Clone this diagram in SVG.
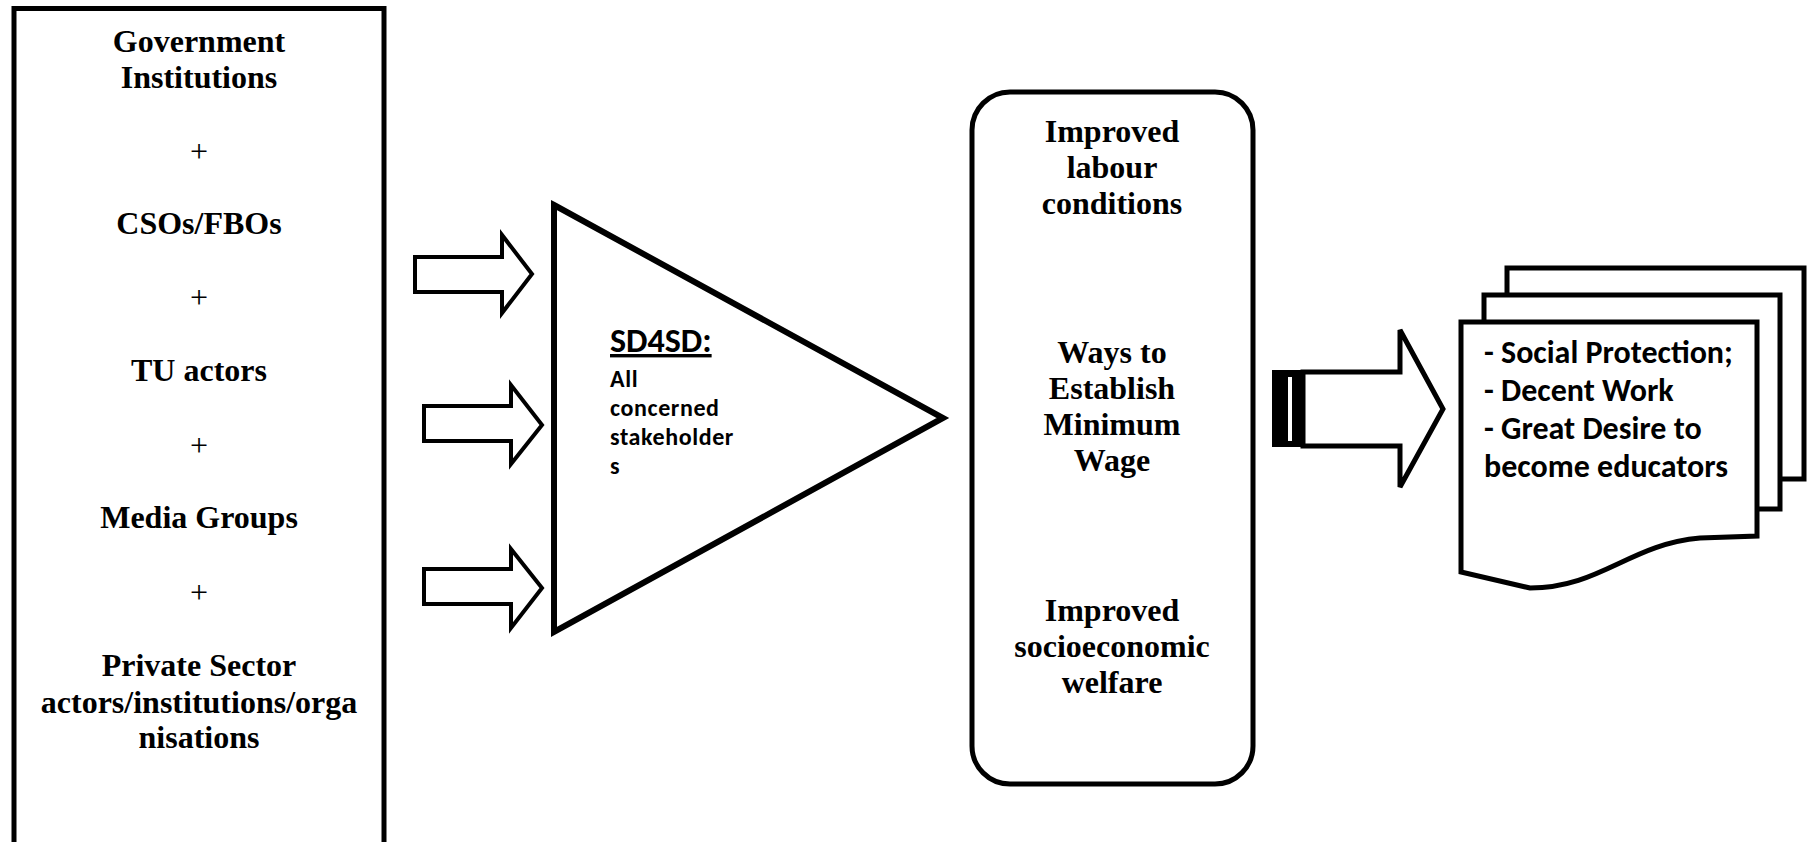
<svg xmlns="http://www.w3.org/2000/svg" width="1812" height="842" viewBox="0 0 1812 842">
<style>
.serif{font-family:"Liberation Serif","Times New Roman",serif;font-size:32px;font-weight:bold;text-anchor:middle;fill:#000}
.plus{font-family:"Liberation Serif","Times New Roman",serif;font-size:32px;font-weight:normal;text-anchor:middle;fill:#000}
.cal{font-family:Carlito,Lato,"Open Sans",sans-serif;font-weight:bold;fill:#000}
.small{font-size:24px;letter-spacing:0.6px}
.shape{fill:#fff;stroke:#000;stroke-linejoin:miter}
.arr{fill:#fff;stroke:#000;stroke-width:4;stroke-linejoin:miter}
</style>
<rect width="1812" height="842" fill="#fff"/>
<g id="actors">
<rect class="shape" x="14" y="8.5" width="370" height="900" stroke-width="5"/>
<text class="serif" x="199" y="52">Government</text>
<text class="serif" x="199" y="88">Institutions</text>
<text class="plus" x="199" y="162">+</text>
<text class="serif" x="199" y="234">CSOs/FBOs</text>
<text class="plus" x="199" y="308">+</text>
<text class="serif" x="199" y="381">TU actors</text>
<text class="plus" x="199" y="456">+</text>
<text class="serif" x="199" y="528">Media Groups</text>
<text class="plus" x="199" y="603">+</text>
<text class="serif" x="199" y="676">Private Sector</text>
<text class="serif" x="199" y="713">actors/institutions/orga</text>
<text class="serif" x="199" y="748">nisations</text>
</g>
<g id="connectors">
<polygon class="arr" points="415,257 502,257 502,235 532,274 502,313 502,292 415,292"/>
<polygon class="arr" points="424,406 511,406 511,385 542,425 511,464 511,441 424,441"/>
<polygon class="arr" points="424,569 511,569 511,549 542,588 511,628 511,604 424,604"/>
<polygon class="shape" points="1303,372 1400,372 1400,330 1443,409 1400,487 1400,446 1303,446" stroke-width="5"/>
<rect x="1272" y="370" width="31" height="77" fill="#000"/>
<rect x="1288" y="377" width="4" height="64" fill="#fff"/>
</g>
<g id="sd4sd">
<polygon class="shape" points="554,205 943,418 554,632" stroke-width="6"/>
<text class="cal" x="610" y="352" font-size="34" text-decoration="underline">SD4SD:</text>
<text class="cal small" x="610" y="387">All</text>
<text class="cal small" x="610" y="416">concerned</text>
<text class="cal small" x="610" y="445">stakeholder</text>
<text class="cal small" x="610" y="474">s</text>
</g>
<g id="outcomes">
<rect class="shape" x="972" y="92" width="281" height="692" rx="38" ry="38" stroke-width="5"/>
<text class="serif" x="1112" y="142">Improved</text>
<text class="serif" x="1112" y="178">labour</text>
<text class="serif" x="1112" y="214">conditions</text>
<text class="serif" x="1112" y="363">Ways to</text>
<text class="serif" x="1112" y="399">Establish</text>
<text class="serif" x="1112" y="435">Minimum</text>
<text class="serif" x="1112" y="471">Wage</text>
<text class="serif" x="1112" y="621">Improved</text>
<text class="serif" x="1112" y="657">socioeconomic</text>
<text class="serif" x="1112" y="693">welfare</text>
</g>
<g id="results">
<rect class="shape" x="1507" y="268" width="297" height="211" stroke-width="5"/>
<rect class="shape" x="1484" y="295" width="296" height="214" stroke-width="5"/>
<path class="shape" stroke-width="5" d="M1461,322 H1757 V536 L1700,538 C1630,544 1600,588 1530,588 L1461,572 Z"/>
<text class="cal" x="1484" y="363" font-size="32">- Social Protection;</text>
<text class="cal" x="1484" y="401" font-size="32">- Decent Work</text>
<text class="cal" x="1484" y="439" font-size="32">- Great Desire to</text>
<text class="cal" x="1484" y="477" font-size="32">become educators</text>
</g>
</svg>
